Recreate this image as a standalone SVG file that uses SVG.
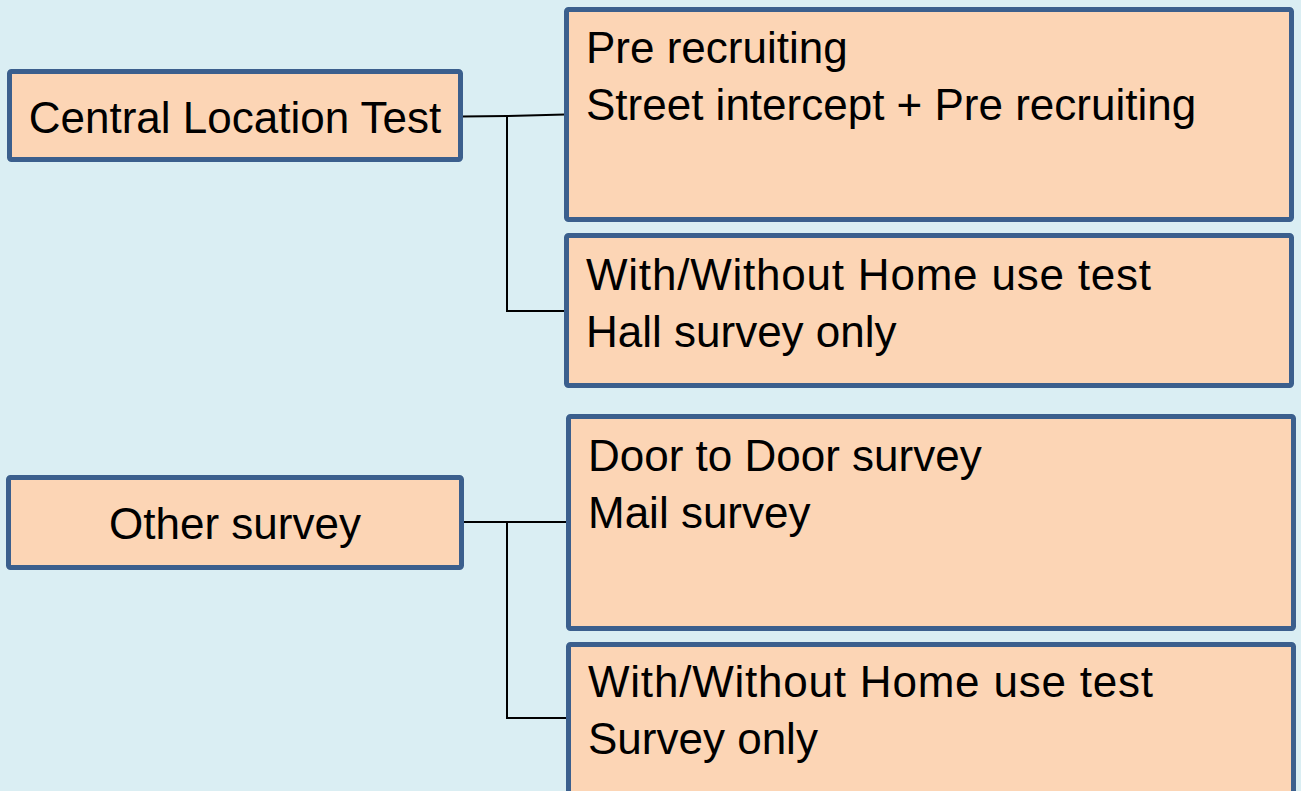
<svg xmlns="http://www.w3.org/2000/svg" width="1301" height="791" viewBox="0 0 1301 791">
<style>
.box{fill:#FCD5B5;stroke:#3B5F8D;stroke-width:5;}
.t{font-family:"Liberation Sans",Arial,sans-serif;font-size:44px;fill:#000;}
.c{stroke:#000;stroke-width:2;fill:none;}
</style>
<rect x="0" y="0" width="1301" height="791" fill="#DAEEF3"/>
<g id="connectors">
<polyline class="c" points="462,116.5 507,116 565,114.5"/>
<polyline class="c" points="507,116 507,311 565,311"/>
<polyline class="c" points="463,522 567,522"/>
<polyline class="c" points="507,522 507,718 567,718"/>
</g>
<g id="clt">
<rect class="box" x="9.5" y="71.5" width="451" height="88" rx="2"/>
<text class="t" x="235" y="133" text-anchor="middle" font-size="42">Central Location Test</text>
</g>
<g id="clt-recruit">
<rect class="box" x="566.5" y="9.5" width="725" height="210" rx="2"/>
<text class="t" x="586" y="63">Pre recruiting</text>
<text class="t" x="586" y="120">Street intercept + Pre recruiting</text>
</g>
<g id="clt-hall">
<rect class="box" x="566.5" y="235.5" width="725" height="150" rx="2"/>
<text class="t" x="586" y="290" textLength="565" lengthAdjust="spacing">With/Without Home use test</text>
<text class="t" x="586" y="347">Hall survey only</text>
</g>
<g id="other">
<rect class="box" x="8.5" y="477.5" width="453" height="90" rx="2"/>
<text class="t" x="235" y="539" text-anchor="middle">Other survey</text>
</g>
<g id="other-mail">
<rect class="box" x="568.5" y="416.5" width="725" height="212" rx="2"/>
<text class="t" x="588" y="471">Door to Door survey</text>
<text class="t" x="588" y="528">Mail survey</text>
</g>
<g id="other-survey">
<rect class="box" x="568.5" y="644.5" width="725" height="160" rx="2"/>
<text class="t" x="588" y="697" textLength="565" lengthAdjust="spacing">With/Without Home use test</text>
<text class="t" x="588" y="754">Survey only</text>
</g>
</svg>
